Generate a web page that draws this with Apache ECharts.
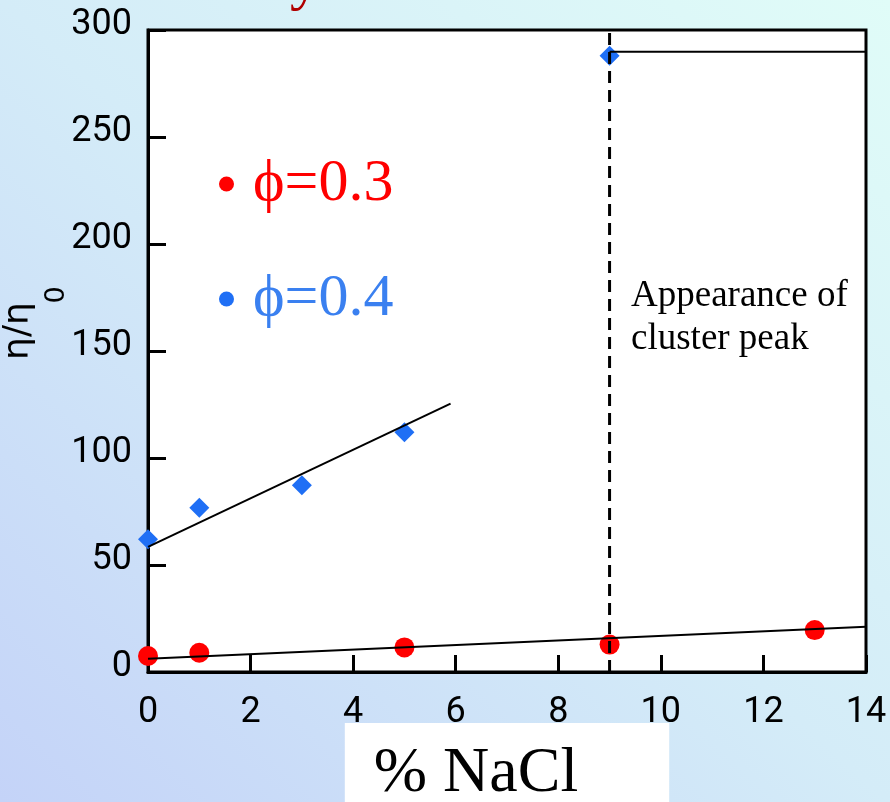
<!DOCTYPE html>
<html>
<head>
<meta charset="utf-8">
<script src="https://cdn.jsdelivr.net/npm/echarts@6/dist/echarts.min.js"></script>
<style>
html,body{margin:0;padding:0;width:890px;height:802px;overflow:hidden;
background:linear-gradient(to top right,#c4d3f8 0%,#d4ecf8 50%,#e0fcf8 100%);}
#chart{width:890px;height:802px;}
</style>
</head>
<body>
<div id="chart"></div>
<script>
// ---- data ----
const phi03X = [0, 1, 5, 9, 13];
const phi03Y = [7.5, 9.0, 11.5, 12.8, 19.6];
const phi04X = [0, 1, 3, 5, 9];
const phi04Y = [62, 76.7, 87.3, 112, 288];
const fit03X = [0, 14];
const fit03Y = [6.2, 21.1];
const fit04X = [0, 5.9];
const fit04Y = [58.5, 125.4];
const clusterX = [9, 9];
const clusterY = [0, 300];
const plateauX = [9, 14];
const plateauY = [289.8, 289.8];
const seriesNames = ['ϕ=0.3', 'ϕ=0.4'];
const yTickMax = 300, yTickStep = 50;
const xTickMax = 14, xTickStep = 2;

const zip = (xs, ys) => xs.map((x, i) => [x, ys[i]]);

const RED = '#ff0000';
const BLUE = '#1f6ff5';
const BLUE_TXT = '#3a80f0';
const SANS = 'Roboto';
const SERIF = 'Liberation Serif';

const chart = echarts.init(document.getElementById('chart'));
chart.setOption({
  backgroundColor: 'transparent',
  animation: false,
  grid: {
    left: 148, right: 24, top: 30, bottom: 130,
    outerBoundsMode: 'none', containLabel: false,
    show: true, backgroundColor: '#ffffff', borderColor: '#000', borderWidth: 3
  },
  legend: {
    orient: 'vertical', left: 214, top: 149,
    icon: 'circle', itemWidth: 15, itemHeight: 15, itemGap: 55,
    textStyle: { fontFamily: SERIF, fontSize: 60, padding: [0, 0, 0, 14] },
    data: [
      { name: seriesNames[0], textStyle: { color: RED } },
      { name: seriesNames[1], textStyle: { color: BLUE_TXT } }
    ]
  },
  xAxis: {
    type: 'value', min: 0, max: xTickMax, interval: xTickStep,
    name: '% NaCl', nameLocation: 'middle', nameGap: 51, nameMoveOverlap: false,
    nameTextStyle: { fontFamily: SERIF, fontSize: 64, color: '#000',
      backgroundColor: '#ffffff', padding: [19, 91, 40, 29] },
    axisLine: { show: true, onZero: false, lineStyle: { color: '#000', width: 3 } },
    axisTick: { show: true, inside: true, length: 17, lineStyle: { color: '#000', width: 3 } },
    axisLabel: { color: '#000', fontFamily: SANS, fontSize: 36, margin: 23 },
    splitLine: { show: false }
  },
  yAxis: {
    type: 'value', min: 0, max: yTickMax, interval: yTickStep,
    axisLine: { show: true, onZero: false, lineStyle: { color: '#000', width: 3 } },
    axisTick: { show: true, inside: true, length: 18, lineStyle: { color: '#000', width: 3 } },
    axisLabel: { color: '#000', fontFamily: SANS, fontSize: 36, margin: 16,
      formatter: '{v|{value}}',
      rich: { v: { color: '#000', fontFamily: SANS, fontSize: 36, padding: [0, 0, 10, 0] } } },
    splitLine: { show: false }
  },
  graphic: [
    { type: 'text', rotation: Math.PI / 2, x: 19, y: 331, z: 10,
      style: { text: 'η/η', font: '36px "DejaVu Sans"', fill: '#000',
        textAlign: 'center', textVerticalAlign: 'middle' } },
    { type: 'text', rotation: Math.PI / 2, x: 57, y: 295, z: 10,
      style: { text: '0', font: '27px "DejaVu Sans"', fill: '#000',
        textAlign: 'center', textVerticalAlign: 'middle' } },
    { type: 'text', x: 631, y: 275, z: 10,
      style: { text: 'Appearance of\ncluster peak', font: '37px "Liberation Serif"',
        lineHeight: 43, fill: '#000', textAlign: 'left', textVerticalAlign: 'top' } },
    { type: 'text', x: 290, y: -48, z: 10,
      style: { text: 'y', font: '60px "Liberation Serif"', fill: '#b00000',
        textAlign: 'left', textVerticalAlign: 'top' } }
  ],
  series: [
    { name: seriesNames[0], type: 'scatter', symbol: 'circle', symbolSize: 20,
      itemStyle: { color: RED, opacity: 1 }, data: zip(phi03X, phi03Y), z: 2 },
    { name: seriesNames[1], type: 'scatter', symbol: 'diamond', symbolSize: 20,
      itemStyle: { color: BLUE, opacity: 1 }, data: zip(phi04X, phi04Y), z: 2 },
    { type: 'line', data: zip(fit03X, fit03Y), showSymbol: false, symbol: 'none',
      lineStyle: { color: '#000', width: 2 }, z: 3, silent: true },
    { type: 'line', data: zip(fit04X, fit04Y), showSymbol: false, symbol: 'none',
      lineStyle: { color: '#000', width: 2 }, z: 3, silent: true },
    { type: 'line', data: zip(clusterX, clusterY), showSymbol: false, symbol: 'none',
      lineStyle: { color: '#000', width: 3, type: [12, 7] }, z: 3, silent: true },
    { type: 'line', data: zip(plateauX, plateauY), showSymbol: false, symbol: 'none',
      lineStyle: { color: '#000', width: 2 }, z: 3, silent: true }
  ]
});
</script>
</body>
</html>
